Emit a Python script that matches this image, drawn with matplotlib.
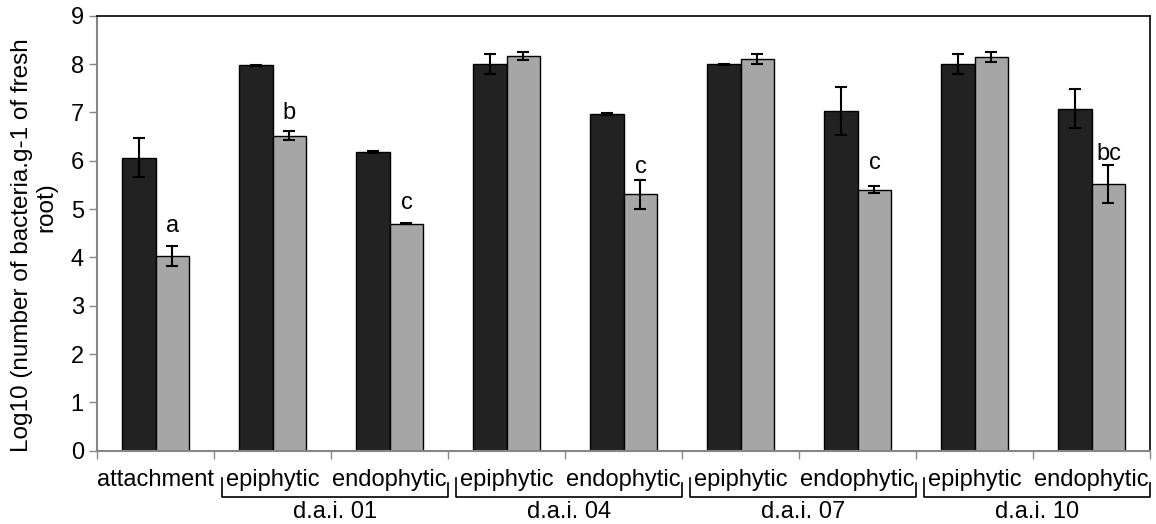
import matplotlib

matplotlib.use("Agg")
import matplotlib.pyplot as plt
import numpy as np

plt.rcParams["font.family"] = ["Liberation Sans", "DejaVu Sans"]

CATEGORIES = ["attachment", "epiphytic", "endophytic", "epiphytic", "endophytic",
              "epiphytic", "endophytic", "epiphytic", "endophytic"]
DARK_VALUES = [6.06, 7.97, 6.18, 8.00, 6.97, 8.00, 7.03, 8.00, 7.08]
DARK_ERR = [0.40, 0.02, 0.02, 0.20, 0.02, 0.01, 0.50, 0.20, 0.40]
GREY_VALUES = [4.03, 6.52, 4.70, 8.17, 5.31, 8.11, 5.40, 8.14, 5.52]
GREY_ERR = [0.20, 0.10, 0.02, 0.08, 0.30, 0.10, 0.07, 0.10, 0.40]

# significance letters over the grey bars: (category index, letter, baseline y)
LETTERS = [(0, "a", 4.52), (1, "b", 6.86), (2, "c", 5.00),
           (4, "c", 5.74), (6, "c", 5.83), (8, "bc", 6.01)]

# day groups: (first category, last category, label)
GROUPS = [(1, 2, "d.a.i. 01"), (3, 4, "d.a.i. 04"),
          (5, 6, "d.a.i. 07"), (7, 8, "d.a.i. 10")]

YLABEL_LINES = ["Log10 (number of bacteria.g-1 of fresh", "root)"]

DARK = "#222222"
GREY = "#a6a6a6"
AXIS_GREY = "#868686"
FS = 17
W, H = 1156, 524

fig = plt.figure(figsize=(W / 100, H / 100), dpi=100)
ax = fig.add_axes([97 / W, 1 - 450.7 / H, 1053 / W, 435 / H])

x = np.arange(len(CATEGORIES))
w = 0.29
err_kw = dict(ecolor="black", elinewidth=1.5, capsize=4, capthick=1.5)
ax.bar(x - w / 2, DARK_VALUES, w, yerr=DARK_ERR, color=DARK,
       edgecolor="black", linewidth=1.0, error_kw=err_kw, zorder=2)
ax.bar(x + w / 2, GREY_VALUES, w, yerr=GREY_ERR, color=GREY,
       edgecolor="black", linewidth=1.0, error_kw=err_kw, zorder=2)

for i, letter, y in LETTERS:
    ax.text(x[i] + w / 2, y, letter, ha="center", va="baseline", fontsize=FS)

ax.set_xlim(-0.5, len(CATEGORIES) - 0.5)
ax.set_ylim(0, 9)
ax.set_yticks(range(10))
ax.set_xticks(np.arange(-0.5, len(CATEGORIES), 1.0))
ax.set_xticklabels([])
ax.tick_params(axis="y", labelsize=FS, color=AXIS_GREY, length=6, width=1)
ax.tick_params(axis="x", color=AXIS_GREY, length=6, width=1)

for side in ("left", "bottom"):
    ax.spines[side].set_color(AXIS_GREY)
    ax.spines[side].set_linewidth(1.5)
for side in ("top", "right"):
    ax.spines[side].set_color("black")
    ax.spines[side].set_linewidth(1.2)

# the wrapped axis title is laid out like the original: second line sits higher
fig.text(22 / W, 1 - 245 / H, YLABEL_LINES[0], rotation=90, ha="center",
         va="center", fontsize=17.5)
fig.text(46 / W, 1 - 207 / H, YLABEL_LINES[1], rotation=90, ha="center",
         va="center", fontsize=17.5)

trans = ax.get_xaxis_transform()
for i, name in enumerate(CATEGORIES):
    ax.text(x[i], -0.067, name, ha="center", va="center", fontsize=FS,
            transform=trans)

for a, b, label in GROUPS:
    left, right = a - 0.43, b + 0.5
    ax.plot([left, left, right, right], [-0.062, -0.106, -0.106, -0.075],
            color="black", lw=1.2, transform=trans, clip_on=False)
    ax.text((left + right) / 2, -0.140, label, ha="center", va="center",
            fontsize=FS, transform=trans)

fig.savefig("out.png", dpi=100)
